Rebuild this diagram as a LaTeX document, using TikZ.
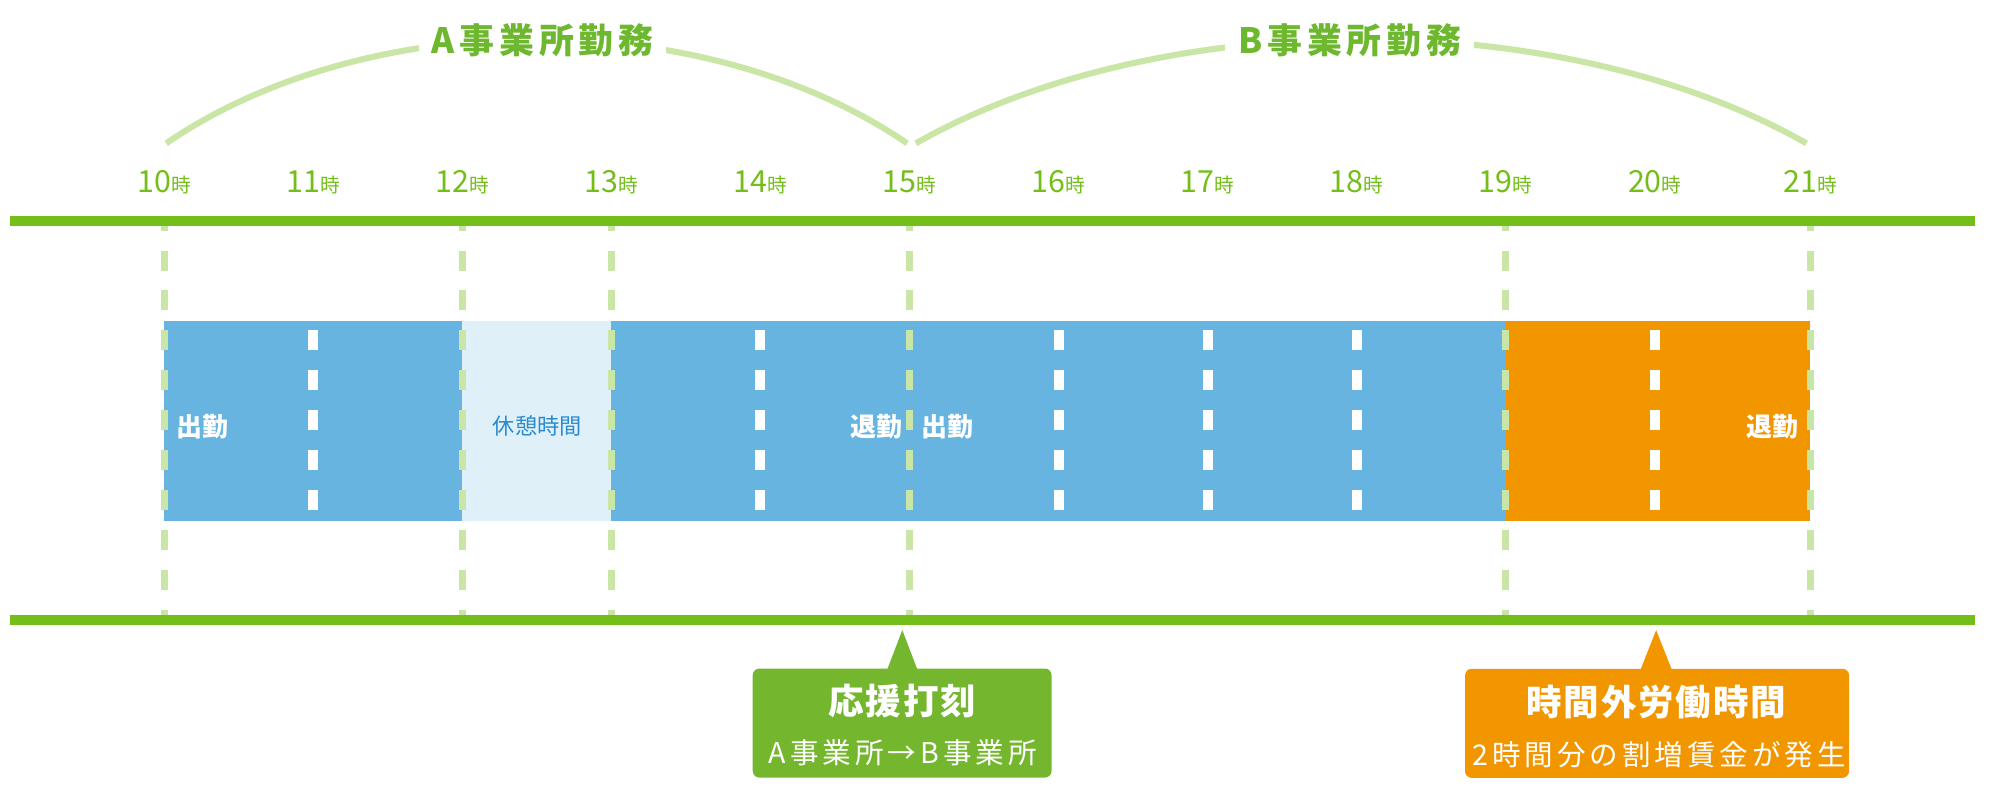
\documentclass[tikz,border=0pt]{standalone}
\usepackage{fontspec}
\setmainfont{Noto Sans CJK JP}
\newfontfamily\titlefont[LetterSpace=14]{Noto Sans CJK JP}
\newfontfamily\headfont[LetterSpace=5]{Noto Sans CJK JP}
\newfontfamily\subfont[LetterSpace=14]{Noto Sans CJK JP}
\usetikzlibrary{calc}

\definecolor{grass}{HTML}{74BE1A}
\definecolor{titlegreen}{HTML}{6DB82E}
\definecolor{pale}{HTML}{C9E6A7}
\definecolor{barblue}{HTML}{67B4E1}
\definecolor{breakblue}{HTML}{DFF0F8}
\definecolor{breaktext}{HTML}{2A8BCF}
\definecolor{overtime}{HTML}{F29600}
\definecolor{punchgreen}{HTML}{74B72F}

\begin{document}
\begin{tikzpicture}[x=1pt,y=-1pt]
  \useasboundingbox (0,0) rectangle (1568,630);

  \foreach \h/\x in {10/129.5,11/247,12/364.5,13/482,14/599.5,15/717,16/834.5,17/952,18/1069.5,19/1187,20/1304.5,21/1427}
    \coordinate (h\h) at (\x,0);

  \fill[barblue] (h10 |- 0,253) rectangle (h19 |- 0,410.5);
  \fill[breakblue] (h12 |- 0,253) rectangle (h13 |- 0,410.5);
  \fill[overtime] (h19 |- 0,253) rectangle (h21 |- 0,410.5);

  \foreach \h in {10,12,13,15,19,21}
    \draw[pale,line width=5.3pt,dash pattern=on 15.75pt off 15.75pt,dash phase=4pt] (h\h |- 0,170) -- (h\h |- 0,489);
  \foreach \h in {11,14,16,17,18,20}
    \draw[white,line width=7.9pt,dash pattern=on 15.75pt off 15.75pt] (h\h |- 0,260.5) -- (h\h |- 0,403);

  \draw[grass,line width=8pt] (8,174) -- (1557,174);
  \draw[grass,line width=8pt] (8,489) -- (1557,489);

  \coordinate (arcA) at (131,113);
  \coordinate (arcB) at (722,113);
  \draw[pale,line width=4.8pt] (arcA) arc[start angle=136,end angle=44,x radius=406pt,y radius=269pt];
  \draw[pale,line width=4.8pt] (arcB) arc[start angle=136,end angle=44,x radius=488pt,y radius=269pt];

  \begin{scope}[every node/.style={fill=white,text=titlegreen,font=\titlefont\bfseries\fontsize{27.5pt}{28pt}\selectfont,anchor=base,inner xsep=10pt,inner ysep=5pt}]
    \node (siteA) at (427.7,42) {A事業所勤務};
    \node (siteB) at (1064,42) {B事業所勤務};
  \end{scope}

  \foreach \h in {10,...,21}
    \node[anchor=base,text=grass,inner sep=0] (l\h) at (h\h |- 0,152) {{\fontsize{24pt}{24pt}\selectfont\h}{\fontsize{15.5pt}{16pt}\selectfont 時}};

  \begin{scope}[every node/.style={text=white,font=\bfseries\fontsize{20.5pt}{21pt}\selectfont,inner sep=0}]
    \node[anchor=west] (inA) at (139,336) {出勤};
    \node[anchor=east] (outA) at (712,336) {退勤};
    \node[anchor=west] (inB) at (726,336) {出勤};
    \node[anchor=east] (outB) at (1418,336) {退勤};
  \end{scope}
  \node[text=breaktext,font=\fontsize{17.5pt}{18pt}\selectfont,inner sep=0] (rest) at (423.5,336) {休憩時間};

  \begin{scope}[every node/.style={rounded corners=5.3pt,inner sep=0,minimum height=86pt}]
    \node[fill=punchgreen,minimum width=235.6pt] (punch) at (711.2,570) {};
    \node[fill=overtime,minimum width=302.8pt] (extra) at (1306.3,570.2) {};
  \end{scope}
  \coordinate (punchtip) at (711.3,496.7);
  \coordinate (extratip) at (1305.6,496.7);
  \fill[punchgreen] ($(punchtip |- punch.north)+(-12.25,2)$) -- (punchtip) -- ($(punchtip |- punch.north)+(12.25,2)$) -- cycle;
  \fill[overtime] ($(extratip |- extra.north)+(-12.75,2)$) -- (extratip) -- ($(extratip |- extra.north)+(12.75,2)$) -- cycle;

  \begin{scope}[every node/.style={text=white,inner sep=0}]
    \node[font=\headfont\bfseries\fontsize{28pt}{28pt}\selectfont] (punchhead) at (711.2,553) {応援打刻};
    \node[font=\subfont\fontsize{22.5pt}{22pt}\selectfont] (punchsub) at (711.7,593.5) {A事業所→B事業所};
    \node[font=\headfont\bfseries\fontsize{28pt}{28pt}\selectfont] (extrahead) at (1305.7,553.5) {時間外労働時間};
    \node[font=\subfont\fontsize{22.5pt}{22pt}\selectfont] (extrasub) at (1307.9,595) {2時間分の割増賃金が発生};
  \end{scope}
\end{tikzpicture}
\end{document}
